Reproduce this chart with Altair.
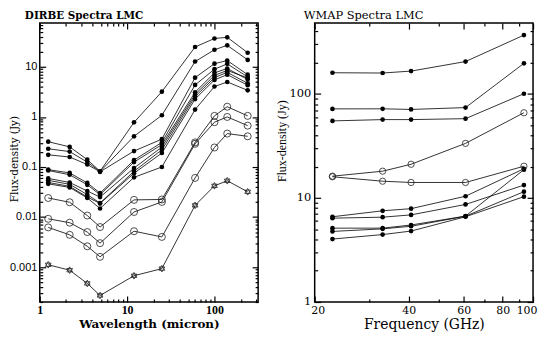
import altair as alt
import pandas as pd

# ---------------- DIRBE (left panel) ----------------
dirbe_wavelength = [1.25, 2.2, 3.5, 4.9, 12, 25, 60, 100, 140, 240]
dirbe_filled = [
    [0.32, 0.252, 0.14, 0.082, 0.78, 3.2, 25, 37, 39, 19.2],
    [0.231, 0.203, 0.125, 0.081, 0.41, 1.08, 12.8, 22, 27, 13.8],
    [0.175, 0.158, 0.112, 0.080, 0.208, 0.36, 6.1, 11.6, 13.4, 7.0],
    [0.0885, 0.076, 0.048, 0.030, 0.137, 0.31, 4.36, 9.0, 11.5, 6.3],
    [0.085, 0.070, 0.044, 0.028, 0.125, 0.28, 3.12, 7.6, 9.3, 5.6],
    [0.059, 0.049, 0.033, 0.025, 0.095, 0.25, 2.82, 6.75, 8.5, 6.0],
    [0.054, 0.045, 0.028, 0.019, 0.082, 0.22, 2.55, 6.1, 7.8, 4.7],
    [0.049, 0.041, 0.025, 0.0187, 0.075, 0.19, 2.27, 5.5, 7.0, 4.3],
    [0.046, 0.039, 0.024, 0.0148, 0.062, 0.10, 1.4, 4.05, 5.0, 3.4],
]
dirbe_open = [
    [0.024, 0.0197, 0.0107, 0.0063, 0.022, 0.0224, 0.31, 1.05, 1.6, 1.05],
    [0.0092, 0.0077, 0.005, 0.003, 0.0126, 0.020, 0.29, 0.785, 1.0, 0.67],
    [0.0062, 0.0044, 0.0026, 0.0016, 0.0052, 0.004, 0.0605, 0.245, 0.465, 0.41],
]
dirbe_star = [
    [0.00111, 0.000865, 0.00047, 0.00027, 0.00067, 0.00093, 0.0171, 0.042, 0.053, 0.0319],
]
dirbe_x_major = [1, 10, 100]
dirbe_x_minor = [2, 3, 4, 5, 6, 7, 8, 9, 20, 30, 40, 50, 60, 70, 80, 90, 200, 300]
dirbe_y_major = [0.001, 0.01, 0.1, 1, 10]
dirbe_y_minor = [0.0002, 0.0003, 0.0004, 0.0005, 0.0006, 0.0007, 0.0008, 0.0009,
                 0.002, 0.003, 0.004, 0.005, 0.006, 0.007, 0.008, 0.009,
                 0.02, 0.03, 0.04, 0.05, 0.06, 0.07, 0.08, 0.09,
                 0.2, 0.3, 0.4, 0.5, 0.6, 0.7, 0.8, 0.9,
                 2, 3, 4, 5, 6, 7, 8, 9, 20, 30, 40, 50, 60, 70]

# ---------------- WMAP (right panel) ----------------
wmap_frequency = [22.8, 33.0, 40.7, 60.8, 93.5]
wmap_filled = [
    [160, 159, 166, 205, 368],
    [71.9, 72, 71, 74, 197],
    [55.1, 56.7, 56.7, 57.9, 100.6],
    [6.6, 7.53, 7.9, 10.4, 19.1],
    [6.4, 6.54, 6.88, 8.67, 13.3],
    [5.13, 5.13, 5.5, 6.7, 18.7],
    [4.77, 5.05, 5.35, 6.68, 11.5],
    [4.03, 4.45, 4.81, 6.6, 10.3],
]
wmap_open = [
    [16.2, 18.1, 21.1, 33.5, 66],
    [16.0, 14.5, 14.1, 14.1, 20.2],
]
wmap_x_major = [20, 40, 60, 80, 100]
wmap_x_minor = [30, 50, 70, 90]
wmap_y_major = [1, 10, 100]
wmap_y_minor = [2, 3, 4, 5, 6, 7, 8, 9, 20, 30, 40, 50, 60, 70, 80, 90, 200, 300, 400]

STAR = "M0,-1L0.866,0.5L-0.866,0.5Z M0,1L0.866,-0.5L-0.866,-0.5Z"
SERIF = "DejaVu Serif"
INK = "#000000"


def to_frame(xs, groups):
    rows = []
    for kind, series in groups:
        for i, vals in enumerate(series):
            for x, v in zip(xs, vals):
                rows.append({"x": x, "y": v, "kind": kind, "sid": f"{kind}{i}"})
    return pd.DataFrame(rows)


def tick_axis(orient, values, size):
    return alt.Axis(orient=orient, values=values, offset=-size, tickSize=size,
                    labels=False, domain=False, grid=False, tickColor=INK,
                    tickOpacity=1, tickWidth=1.2)


def panel(df, w, h, xdom, ydom, xmaj, xmin, ymaj, ymin, xlab_axis, ylab_axis,
          xtitle, ytitle, title, circ_small, circ_big, star_size):
    xs = alt.Scale(type="log", domain=xdom, nice=False)
    ys = alt.Scale(type="log", domain=ydom, nice=False)
    base = alt.Chart(df)

    def enc(xa, ya, xt=None, yt=None):
        return dict(x=alt.X("x:Q", scale=xs, axis=xa, title=xt),
                    y=alt.Y("y:Q", scale=ys, axis=ya, title=yt))

    layers = [
        base.mark_line(color="black", strokeWidth=0.8).encode(
            detail="sid:N", **enc(xlab_axis, ylab_axis, xtitle, ytitle)),
        base.transform_filter(alt.datum.kind == "f").mark_point(
            shape="circle", filled=True, color="black", size=circ_small, opacity=1
        ).encode(**enc(tick_axis("bottom", xmaj, 6), tick_axis("left", ymaj, 6))),
        base.transform_filter(alt.datum.kind == "o").mark_point(
            shape="circle", filled=False, color="#222", size=circ_big, opacity=1,
            strokeWidth=0.8
        ).encode(**enc(tick_axis("bottom", xmin, 3), tick_axis("left", ymin, 3))),
        base.mark_point(opacity=0).encode(
            **enc(tick_axis("top", xmaj, 6), tick_axis("right", ymaj, 6))),
        base.mark_point(opacity=0).encode(
            **enc(tick_axis("top", xmin, 3), tick_axis("right", ymin, 3))),
    ]
    if (df["kind"] == "s").any():
        layers.append(
            base.transform_filter(alt.datum.kind == "s").mark_point(
                shape=STAR, filled=False, color="#222", size=star_size, opacity=1,
                strokeWidth=0.8
            ).encode(**enc(None, None)))
    return alt.layer(*layers).resolve_axis(x="independent", y="independent").properties(
        width=w, height=h, title=title)


left_df = to_frame(dirbe_wavelength, [("f", dirbe_filled), ("o", dirbe_open), ("s", dirbe_star)])
right_df = to_frame(wmap_frequency, [("f", wmap_filled), ("o", wmap_open)])

W, H = 220, 281

left = panel(
    left_df, W, H, [1, 316], [0.0002, 75],
    dirbe_x_major, dirbe_x_minor, dirbe_y_major, dirbe_y_minor,
    alt.Axis(orient="bottom", values=dirbe_x_major, format="~g", ticks=False, tickSize=0,
             domain=False, grid=False, labelFlush=False,
             labelFont="Liberation Serif",
             labelFontWeight="bold", labelFontSize=12, labelPadding=3, titleFont=SERIF,
             titleFontWeight="bold", titleFontSize=12, titlePadding=3, labelColor="black",
             titleColor="black"),
    alt.Axis(orient="left", values=dirbe_y_major, format="~g", ticks=False, tickSize=0,
             domain=False, grid=False,
             labelFont="Liberation Sans", labelFontSize=11,
             labelPadding=3, titleFont=SERIF, titleFontSize=10.5,
             titleFontWeight="normal", titleX=-25, titleY=H / 2 - 4,
             titleBaseline="middle", labelColor="black", titleColor="black"),
    "Wavelength (micron)", "Flux-density (Jy)",
    alt.TitleParams("DIRBE Spectra LMC", anchor="start", frame="group", dx=-15,
                    font=SERIF, fontSize=10.5, fontWeight="bold",
                    offset=1, color="black"),
    22, 50, 45,
)

right = panel(
    right_df, W, H, [20, 100], [1, 480],
    wmap_x_major, wmap_x_minor, wmap_y_major, wmap_y_minor,
    alt.Axis(orient="bottom", values=wmap_x_major, format="~g", ticks=False, tickSize=0,
             domain=False, grid=False,
             labelFlush=True, labelFlushOffset=4,
             labelFont=SERIF, labelFontSize=11,
             labelPadding=3, titleFont=SERIF, titleFontSize=14,
             titleFontWeight="normal", titlePadding=2, labelColor="black",
             titleColor="black"),
    alt.Axis(orient="left", values=wmap_y_major, format="~g", ticks=False, tickSize=0,
             domain=False, grid=False,
             labelFont=SERIF, labelFontSize=11.5,
             labelPadding=4, titleFont="Liberation Serif", titleFontSize=12,
             titleFontWeight="normal", titleX=-33, titleY=H / 2 - 22,
             titleBaseline="middle", labelColor="black", titleColor="black"),
    "Frequency (GHz)", "Flux-density (Jy)",
    alt.TitleParams("WMAP Spectra LMC", anchor="start", frame="group", dx=-11,
                    font=SERIF, fontSize=11.5, fontWeight="normal",
                    offset=1, color="black"),
    22, 40, 45,
)

chart = alt.hconcat(left, right, spacing=15).properties(
    padding=0, background="white"
).configure_view(stroke=INK, strokeWidth=1.5, strokeOpacity=1)

chart.save("out.html", embed_options={"renderer": "svg", "actions": False})
